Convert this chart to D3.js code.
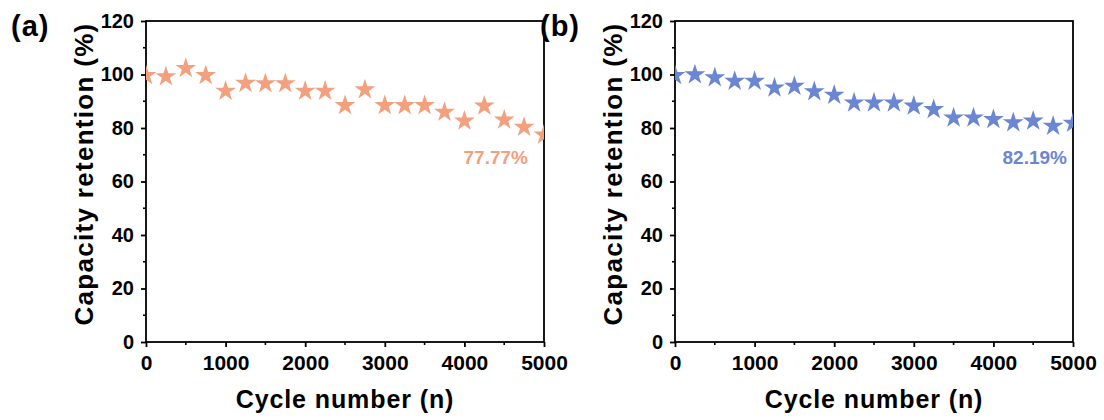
<!DOCTYPE html>
<html>
<head>
<meta charset="utf-8">
<script src="https://cdn.jsdelivr.net/npm/d3@7"></script>
<style>
  body { margin: 0; background: #fff; }
  svg { display: block; font-family: "Liberation Sans", Arial, sans-serif; font-weight: bold; }
</style>
</head>
<body>
<svg id="chart" width="1104" height="420"></svg>
<script>
// Data;
const cycles = [0, 250, 500, 750, 1000, 1250, 1500, 1750, 2000, 2250, 2500,
    2750, 3000, 3250, 3500, 3750, 4000, 4250, 4500, 4750, 5000];
const retentionA = [100, 99.6, 102.7, 100, 94.2, 97.1, 97, 97, 94.2, 94.2, 88.8,
    94.7, 88.8, 88.8, 88.8, 86.3, 83, 88.6, 83.4, 80.7, 77.77];
const retentionB = [100, 100.3, 99.2, 97.9, 97.9, 95.4, 96, 94, 92.7, 89.8, 89.8,
    89.8, 88.6, 87.3, 84.2, 84.2, 83.6, 82.4, 83, 81.1, 82.19];
const xTicks = [0, 1000, 2000, 3000, 4000, 5000];
const yTicks = [0, 20, 40, 60, 80, 100, 120];

const panels = [
    { id: 'a', label: '(a)', values: retentionA, color: '#F2A07E', note: '77.77%', noteEnd: 528, left: 146 },
    { id: 'b', label: '(b)', values: retentionB, color: '#6B86D2', note: '82.19%', noteEnd: 1067, left: 675 }
];

const svg = d3.select('#chart');
const plotW = 398;
const plotTop = 21;
const plotBottom = 342;

panels.forEach((p) => {
    const x = d3.scaleLinear().domain([0, 5000]).range([p.left, p.left + plotW]);
    const y = d3.scaleLinear().domain([0, 120]).range([plotBottom, plotTop]);

    const g = svg.append('g');

    // Clip the stars to the frame;
    g.append('clipPath')
        .attr('id', 'clip-' + p.id)
        .append('rect')
        .attr('x', p.left)
        .attr('y', plotTop)
        .attr('width', plotW)
        .attr('height', plotBottom - plotTop);

    // Minor ticks;
    const minorX = d3.range(500, 5000, 1000);
    const minorY = d3.range(10, 120, 20);
    g.selectAll('.mx')
        .data(minorX)
        .enter()
        .append('line')
        .attr('x1', (d) => x(d)).attr('x2', (d) => x(d))
        .attr('y1', plotBottom).attr('y2', plotBottom + 3)
        .attr('stroke', '#000').attr('stroke-width', 1.6);
    g.selectAll('.my')
        .data(minorY)
        .enter()
        .append('line')
        .attr('x1', p.left - 3).attr('x2', p.left)
        .attr('y1', (d) => y(d)).attr('y2', (d) => y(d))
        .attr('stroke', '#000').attr('stroke-width', 1.6);

    // Axes;
    const xAxis = g.append('g')
        .attr('transform', `translate(0,${plotBottom})`)
        .call(d3.axisBottom(x).tickValues(xTicks).tickFormat(d3.format('d')).tickSize(5).tickPadding(5));
    const yAxis = g.append('g')
        .attr('transform', `translate(${p.left},0)`)
        .call(d3.axisLeft(y).tickValues(yTicks).tickSize(5).tickPadding(7));
    [xAxis, yAxis].forEach((a) => {
        a.select('.domain').remove();
        a.selectAll('line').attr('stroke', '#000').attr('stroke-width', 1.8);
        a.selectAll('text')
            .attr('fill', '#000')
            .style('font-size', '20px')
            .style('font-weight', 'bold')
            .style('font-family', '"Liberation Sans", Arial, sans-serif');
    });
    xAxis.selectAll('text').attr('dy', '0.85em').style('font-size', '21px');

    // Frame;
    g.append('rect')
        .attr('x', p.left)
        .attr('y', plotTop)
        .attr('width', plotW)
        .attr('height', plotBottom - plotTop)
        .attr('fill', 'none')
        .attr('stroke', '#000')
        .attr('stroke-width', 1.8);

    // Stars;
    const star = d3.symbol().type(d3.symbolStar).size(135);
    g.append('g')
        .attr('clip-path', `url(#clip-${p.id})`)
        .selectAll('path')
        .data(p.values)
        .enter()
        .append('path')
        .attr('d', star)
        .attr('transform', (d, i) => `translate(${x(cycles[i])},${y(d) + 1})`)
        .attr('fill', p.color);

    // Final value note;
    g.append('text')
        .attr('x', p.noteEnd)
        .attr('y', 164)
        .attr('text-anchor', 'end')
        .attr('fill', p.color)
        .style('font-size', '19px')
        .text(p.note);

    // Axis titles;
    g.append('text')
        .attr('x', p.left + plotW / 2)
        .attr('y', 408)
        .attr('text-anchor', 'middle')
        .style('font-size', '25px')
        .style('letter-spacing', '0.9px')
        .text('Cycle number (n)');
    g.append('text')
        .attr('transform', `translate(${p.left - 53},174) rotate(-90)`)
        .attr('text-anchor', 'middle')
        .style('font-size', '26px')
        .style('letter-spacing', '1.3px')
        .text('Capacity retention (%)');

    // Panel label;
    g.append('text')
        .attr('x', p.left - 135)
        .attr('y', 36)
        .style('font-size', '29px')
        .style('letter-spacing', '1px')
        .text(p.label);
});
</script>
</body>
</html>
